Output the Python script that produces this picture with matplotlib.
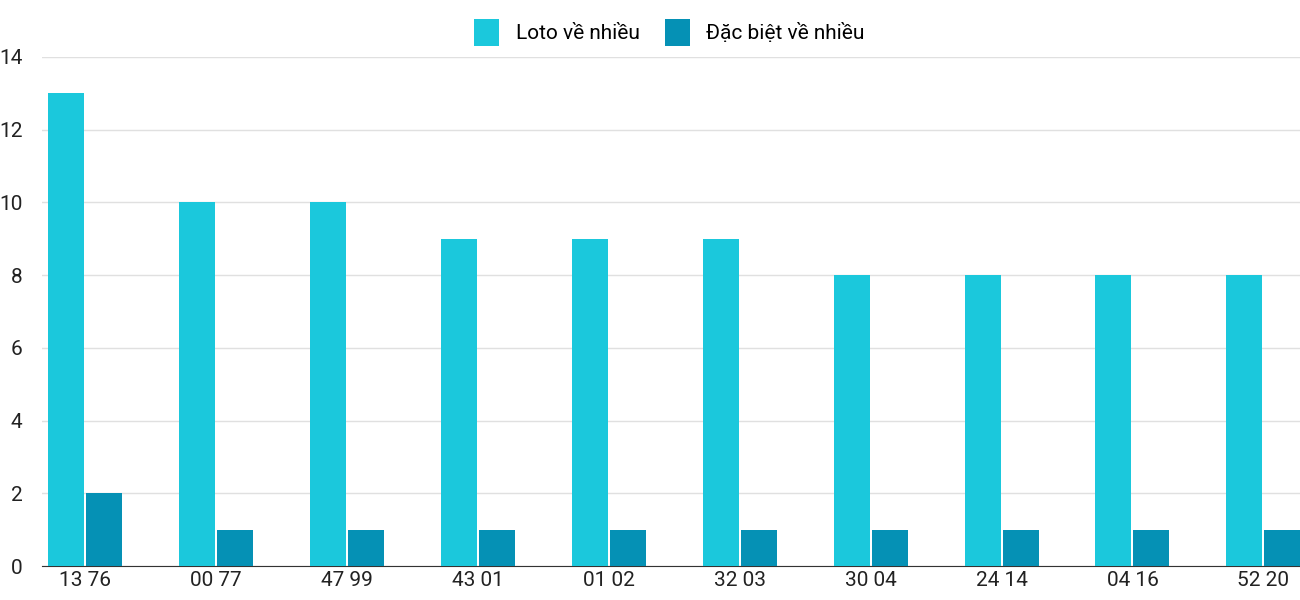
import numpy as np
import matplotlib.pyplot as plt

plt.rcParams['font.family'] = ['Roboto', 'DejaVu Sans']

categories = ['13 76', '00 77', '47 99', '43 01', '01 02', '32 03', '30 04', '24 14', '04 16', '52 20']
loto = [13, 10, 10, 9, 9, 9, 8, 8, 8, 8]
dac_biet = [2, 1, 1, 1, 1, 1, 1, 1, 1, 1]

fig = plt.figure(figsize=(13, 6), dpi=100)
ax = fig.add_axes([42 / 1300, 34 / 600, 1 - 42 / 1300, (566 - 57) / 600])

x = np.arange(len(categories))
w = 0.275
ax.bar(x - 0.145, loto, w, color='#1BC8DC', label='Loto về nhiều', zorder=3)
ax.bar(x + 0.145, dac_biet, w, color='#0591B5', label='Đặc biệt về nhiều', zorder=3)

ax.set_xlim(-0.33, 9.28)
ax.set_ylim(0, 14)
ax.set_yticks(range(0, 15, 2))
ax.set_xticks(x)
ax.set_xticklabels(categories)
ax.tick_params(axis='both', length=0, labelsize=15, colors='#222222')
ax.tick_params(axis='y', pad=14)
ax.grid(axis='y', color='#e0e0e0', linewidth=1, zorder=0)
for s in ['top', 'right', 'left']:
    ax.spines[s].set_visible(False)
ax.spines['bottom'].set_color('#333333')

fig.legend(loc='upper center', bbox_to_anchor=(0.515, 1.0), ncol=2, frameon=False,
           fontsize=15, handlelength=1.2, handleheight=1.6, columnspacing=1.2)

fig.savefig('out.png', dpi=100)
